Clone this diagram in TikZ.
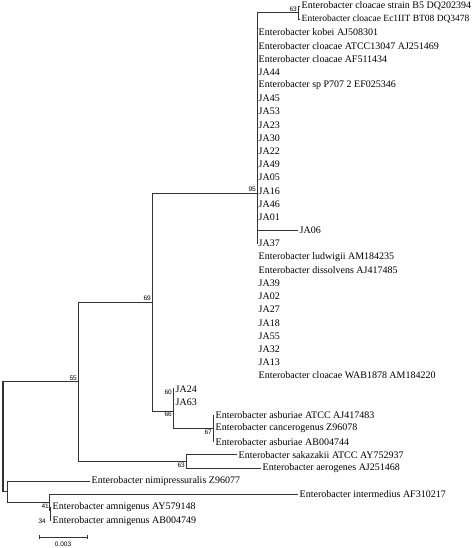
\documentclass[tikz,border=0pt]{standalone}
\usepackage{fontspec}
\setmainfont{Liberation Serif}
\newfontfamily\bootfont{Liberation Sans}
\tikzset{
  leaf/.style={anchor=west, inner sep=1.5pt, font=\fontsize{10}{12}\selectfont},
  boot/.style={inner sep=1pt, font=\bootfont\fontsize{6.5}{7}\selectfont},
  branch/.style={line width=0.8pt, black!80}
}
\begin{document}
\begin{tikzpicture}[x=1pt,y=-1pt]
\useasboundingbox (0,0) rectangle (474,548);
% leaves
\node[leaf] (l0) at (300,6) {Enterobacter cloacae strain B5 DQ202394};
\node[leaf,font=\fontsize{9.5}{12}\selectfont] (l1) at (300,19.2) {Enterobacter cloacae Ec1IIT BT08 DQ3478};
\foreach \lab [count=\i from 2] in {Enterobacter kobei AJ508301, Enterobacter cloacae ATCC13047 AJ251469, Enterobacter cloacae AF511434, JA44, Enterobacter sp P707 2 EF025346, JA45, JA53, JA23, JA30, JA22, JA49, JA05, JA16, JA46, JA01}
  {\node[leaf] (l\i) at (257,{6+13.2*\i}) {\lab};}
\node[leaf] (l17) at (298,230.4) {JA06};
\foreach \lab [count=\i from 18] in {JA37, Enterobacter ludwigii AM184235, Enterobacter dissolvens AJ417485, JA39, JA02, JA27, JA18, JA55, JA32, JA13, Enterobacter cloacae WAB1878 AM184220}
  {\node[leaf] (l\i) at (257,{6+13.2*\i}) {\lab};}
\node[leaf] (l29) at (174,388.8) {JA24};
\node[leaf] (l30) at (174,402) {JA63};
\node[leaf] (l31) at (214,415.2) {Enterobacter asburiae ATCC AJ417483};
\node[leaf] (l32) at (214,428.4) {Enterobacter cancerogenus Z96078};
\node[leaf] (l33) at (214,441.6) {Enterobacter asburiae AB004744};
\node[leaf] (l34) at (237,454.8) {Enterobacter sakazakii ATCC AY752937};
\node[leaf] (l35) at (261,468) {Enterobacter aerogenes AJ251468};
\node[leaf] (l36) at (90,481.2) {Enterobacter nimipressuralis Z96077};
\node[leaf] (l37) at (298,494.4) {Enterobacter intermedius AF310217};
\node[leaf] (l38) at (51,507.6) {Enterobacter amnigenus AY579148};
\node[leaf] (l39) at (51,520.8) {Enterobacter amnigenus AB004749};
% inner nodes
\coordinate (n63a) at (298,12.6);
\coordinate (n95) at (257,193);
\coordinate (n69) at (152,302);
\coordinate (n60) at (173,395.4);
\coordinate (n67) at (213,428.4);
\coordinate (n66) at (173,411);
\coordinate (n63b) at (186,461.4);
\coordinate (n55) at (78,381.5);
\coordinate (n41) at (50,510);
\coordinate (nA) at (49,502);
\coordinate (nB) at (7,491.6);
\coordinate (root) at (3,440);
% branches
\foreach \i in {2,...,16,18,...,28} {\draw[branch] (n95) |- (l\i.west);}
\draw[branch] (n95) |- (n63a);
\draw[branch] (n63a) |- (l0.west);
\draw[branch] (n63a) |- (l1.west);
\draw[branch] (n95) |- (l17.west);
\draw[branch] (n69) |- (n95);
\draw[branch] (n69) |- (n66);
\draw[branch] (n66) |- (n60);
\draw[branch] (n66) |- (n67);
\draw[branch] (n60) |- (l29.west);
\draw[branch] (n60) |- (l30.west);
\foreach \i in {31,32,33} {\draw[branch] (n67) |- (l\i.west);}
\draw[branch] (n55) |- (n69);
\draw[branch] (n55) |- (n63b);
\draw[branch] (n63b) |- (l34.west);
\draw[branch] (n63b) |- (l35.west);
\draw[branch,line width=1.4pt] (root) |- (n55);
\draw[branch,line width=1.4pt] (root) |- (nB);
\draw[branch] (nB) |- (l36.west);
\draw[branch] (nB) |- (nA);
\draw[branch] (nA) |- (l37.west);
\draw[branch] (nA) |- (n41);
\draw[branch] (n41) |- (l38.west);
\draw[branch] (n41) |- (l39.west);
% bootstrap values
\node[boot,anchor=south east] at (n63a) {63};
\node[boot,anchor=south east] at (n95) {95};
\node[boot,anchor=south east] at (n69) {69};
\node[boot,anchor=south east] at (n55) {55};
\node[boot,anchor=south east] at (n60) {60};
\node[boot,anchor=north east] at (n66) {66};
\node[boot,anchor=north east] at (n67) {67};
\node[boot,anchor=north east] at (n63b) {63};
\node[boot,anchor=south east] at (n41) {41};
\node[boot,anchor=east] at ([xshift=-4pt]l39.west) {34};
% scale bar
\coordinate (sbl) at (39,537);
\coordinate (sbr) at (87,537);
\draw[branch] (sbl) -- (sbr);
\draw[branch] ([yshift=-2pt]sbl) -- ([yshift=2pt]sbl);
\draw[branch] ([yshift=-2pt]sbr) -- ([yshift=2pt]sbr);
\node[boot] (sblab) at (63,544.5) {0.003};
\end{tikzpicture}
\end{document}
